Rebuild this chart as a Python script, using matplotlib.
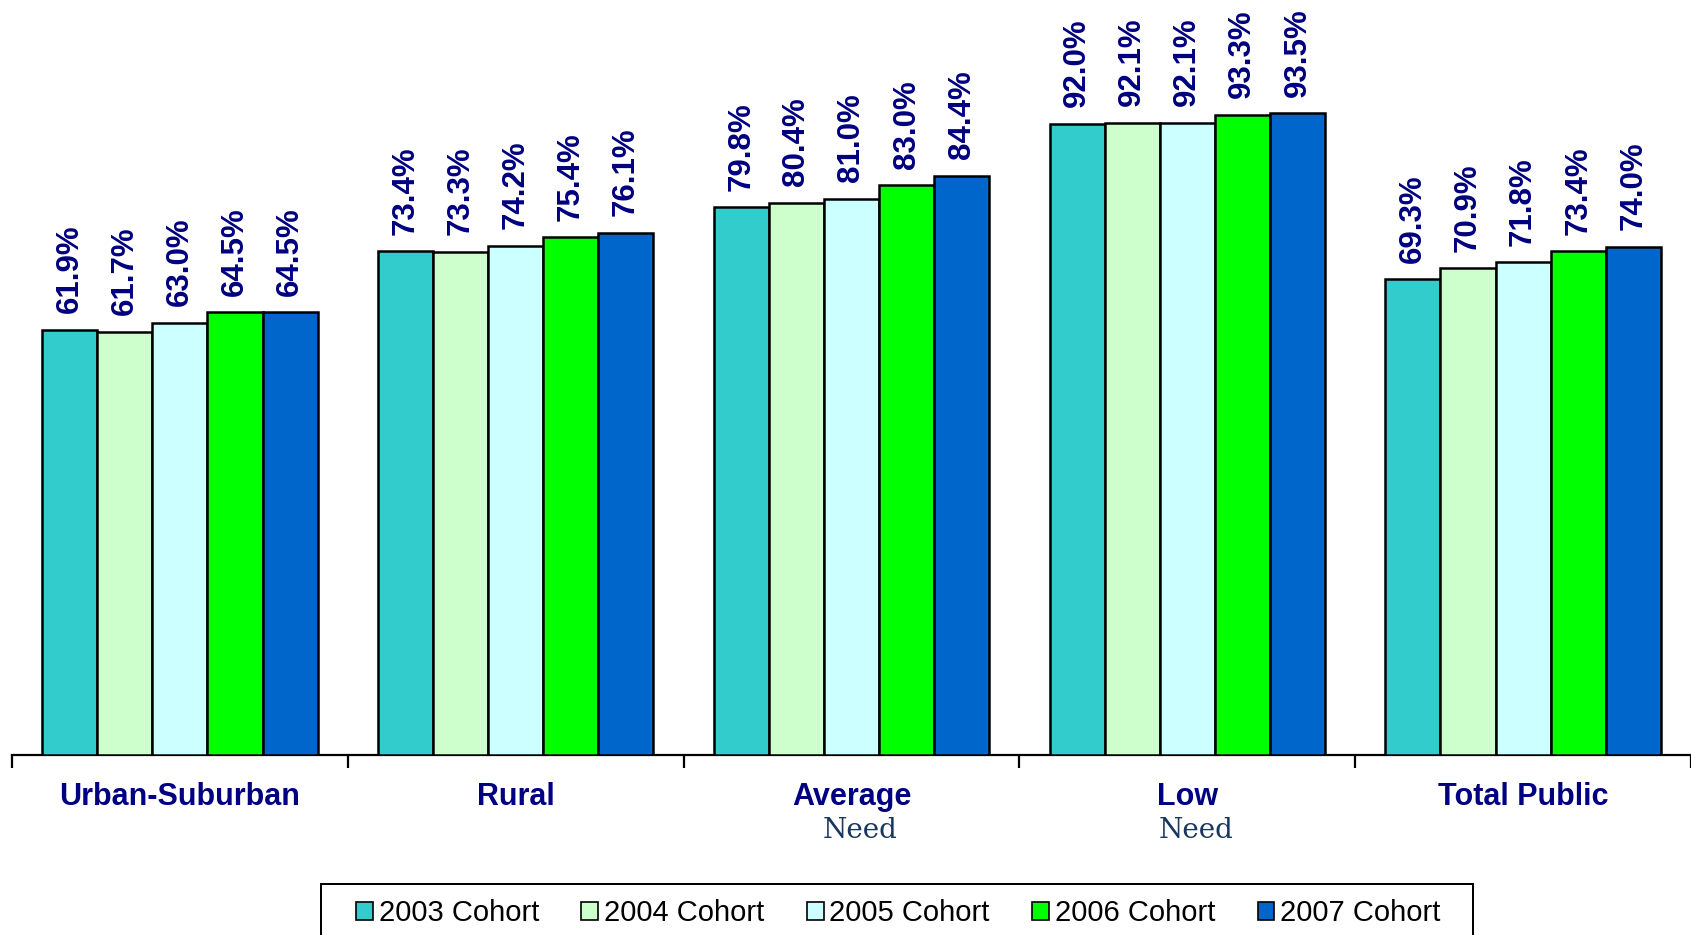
import matplotlib
matplotlib.use("Agg")
import matplotlib.pyplot as plt
from matplotlib.patches import Patch, Rectangle

# cohort graduation rates by need/resource category
categories = ["Urban-Suburban", "Rural", "Average", "Low", "Total Public"]
second_line = ["", "", "Need", "Need", ""]
cohorts = ["2003 Cohort", "2004 Cohort", "2005 Cohort", "2006 Cohort", "2007 Cohort"]
c2003 = [61.9, 73.4, 79.8, 92.0, 69.3]
c2004 = [61.7, 73.3, 80.4, 92.1, 70.9]
c2005 = [63.0, 74.2, 81.0, 92.1, 71.8]
c2006 = [64.5, 75.4, 83.0, 93.3, 73.4]
c2007 = [64.5, 76.1, 84.4, 93.5, 74.0]
series = [c2003, c2004, c2005, c2006, c2007]
colores = ["#33CCCC", "#CCFFCC", "#CCFFFF", "#00FF00", "#0066CC"]

navy = "#000080"
fuente = "Liberation Sans"

fig = plt.figure(figsize=(16.91, 9.35), dpi=100)
ax = fig.add_axes([12/1691, 180/935, 1 - 12/1691, 755/935])

n = len(categories)
w = 0.164
centros = [i + 0.5 for i in range(n)]

for j, vals in enumerate(series):
    xs = [c + (j - 2) * w for c in centros]
    bars = ax.bar(xs, vals, width=w, color=colores[j], edgecolor="black",
                  linewidth=1.8, zorder=3)
    for b, v in zip(bars, vals):
        ax.annotate(f"{v:.1f}%", (b.get_x() + b.get_width()/2, v),
                    xytext=(0, 12), textcoords="offset points",
                    rotation=90, ha="center", va="bottom",
                    fontsize=22.5, fontweight="bold", color=navy, family=fuente)

ax.set_xlim(0, n)
ax.set_ylim(0, 110)
for s in ["top", "left", "right"]:
    ax.spines[s].set_visible(False)
ax.spines["bottom"].set_linewidth(1.6)
ax.set_yticks([])
ax.set_xticks(range(n + 1))
ax.set_xticklabels([])
ax.tick_params(axis="x", direction="out", length=9.4, width=1.6)

for c, lab, lab2 in zip(centros, categories, second_line):
    ax.annotate(lab, (c, 0), xycoords=("data", "axes fraction"),
                xytext=(0, -30.5), textcoords="offset points",
                ha="center", va="center", fontsize=22, fontweight="bold",
                color=navy, family=fuente)
    if lab2:
        ax.annotate(lab2, (c, 0), xycoords=("data", "axes fraction"),
                    xytext=(6.5, -54), textcoords="offset points",
                    ha="center", va="center", fontsize=20,
                    color="#17375E", family="DejaVu Serif")

# legend box (its bottom edge runs off the picture)
caja = Rectangle((321/1691, -0.05), 1152/1691, 0.05 + 1 - 884/935,
                 transform=fig.transFigure, fill=False, edgecolor="black",
                 linewidth=1.44)
fig.patches.append(caja)

handles = [Patch(facecolor=colores[j], edgecolor="black", linewidth=1.2)
           for j in range(len(cohorts))]
leg = fig.legend(handles, cohorts, loc="center left",
                 bbox_to_anchor=(356/1691, 1 - 913/935), ncol=5,
                 prop={"family": fuente, "size": 21},
                 handlelength=0.58, handleheight=0.58, handletextpad=0.2,
                 columnspacing=1.45, borderpad=0, borderaxespad=0,
                 frameon=False)

fig.savefig("out.png", dpi=100)
